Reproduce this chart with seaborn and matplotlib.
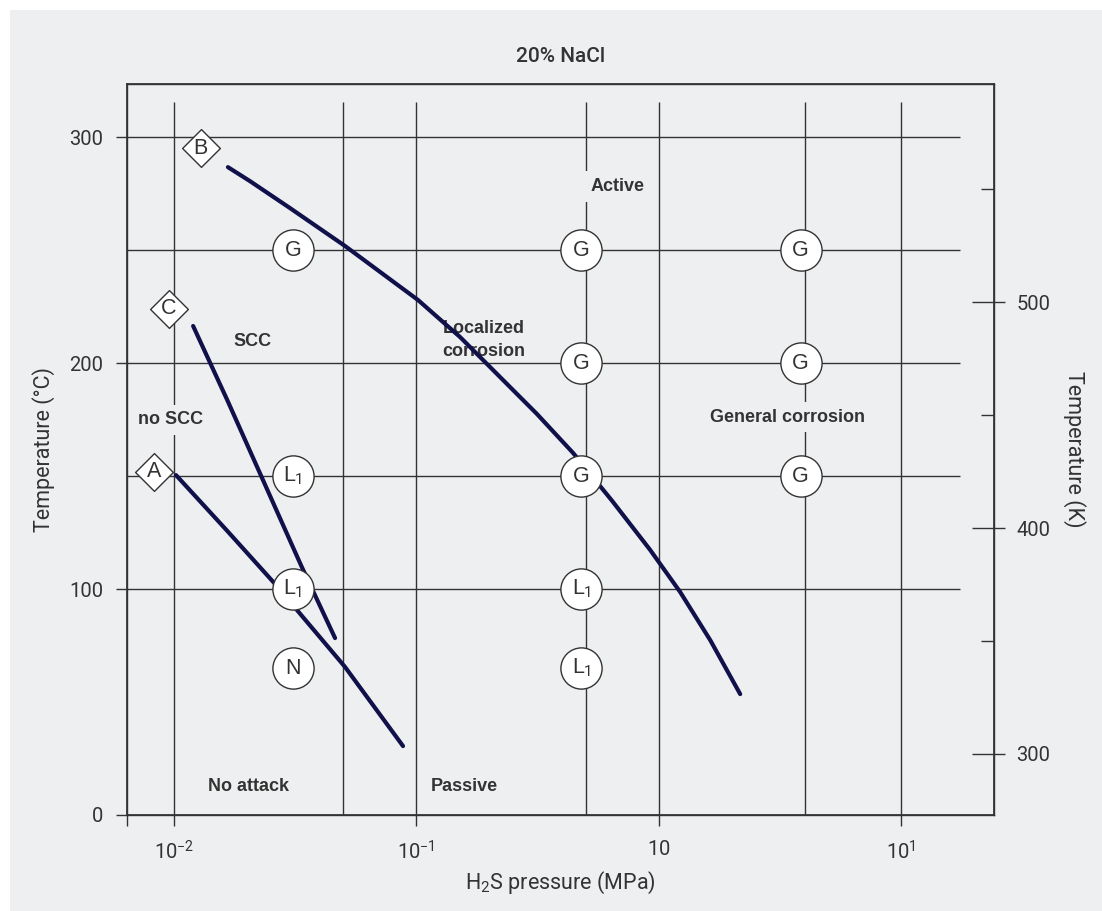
import matplotlib
matplotlib.use("Agg")
import matplotlib.pyplot as plt
import seaborn as sns
from matplotlib.patches import Rectangle

# curves: H2S pressure (MPa) vs temperature (C)
curve_b_p = [0.0167, 0.0206, 0.0301, 0.0508, 0.1016, 0.1515, 0.2215, 0.3148,
             0.4433, 0.6423, 0.9215, 1.225, 1.630, 2.167]
curve_b_t = [286.7, 280.5, 268.6, 251.8, 227.9, 211.5, 193.8, 177.4,
             160.2, 139.0, 117.3, 98.7, 77.4, 53.5]
curve_c_p = [0.0120, 0.0166, 0.0337, 0.0462]
curve_c_t = [216.4, 183.6, 109.7, 78.3]
curve_a_p = [0.0102, 0.0166, 0.0257, 0.0508, 0.0881]
curve_a_t = [150.4, 125.7, 103.1, 65.5, 30.5]

# test points
circle_p = [0.031, 0.48, 3.85, 0.48, 3.85, 0.031, 0.48, 3.85, 0.031, 0.48, 0.031, 0.48]
circle_t = [250, 250, 250, 200, 200, 150, 150, 150, 100, 100, 65, 65]
circle_lab = ["G", "G", "G", "G", "G", "L1", "G", "G", "L1", "L1", "N", "L1"]

diamond_p = [0.00826, 0.0129, 0.00953]
diamond_t = [152, 295, 224]
diamond_lab = ["A", "B", "C"]

# region labels (masked ones sit on grid lines)
region_lab = ["Active", "no SCC", "General corrosion"]
region_p = [0.673, 0.00972, 3.39]
region_t = [278, 174.8, 176.1]
plain_lab = ["SCC", "Localized\ncorrosion", "No attack", "Passive"]
plain_p = [0.0210, 0.190, 0.0204, 0.157]
plain_t = [209.7, 210.2, 12.8, 12.4]

grid_p = [0.01, 0.05, 0.1, 0.5, 1, 4, 10]
grid_t = [100, 150, 200, 250, 300]
xtick_pos = [0.0064, 0.01, 0.1, 1, 10]
xtick_lab = ["", "$10^{-2}$", "$10^{-1}$", "$10$", "$10^{1}$"]

BG = "#eeeff1"
INK = "#333333"
CURVE = "#10104a"

sns.set_theme(style="ticks")
plt.rcParams["font.family"] = ["Roboto", "DejaVu Sans"]
plt.rcParams["mathtext.fontset"] = "custom"
plt.rcParams["mathtext.rm"] = "Roboto"
plt.rcParams["mathtext.it"] = "Liberation Sans"
plt.rcParams["text.color"] = INK
plt.rcParams["axes.labelcolor"] = INK

fig = plt.figure(figsize=(11.02, 9.11), dpi=100, facecolor="white")
fig.patches.append(Rectangle((10 / 1102, 0), 1, 901 / 911, transform=fig.transFigure,
                             facecolor=BG, edgecolor="none", zorder=-1))
ax = fig.add_axes([0.1152, 0.1054, 0.787, 0.8024])
ax.set_facecolor(BG)
ax.set_xscale("log")
xmin, xmax = 0.0064, 24.2
ymax = 323.5
ax.set_xlim(xmin, xmax)
ax.set_ylim(0, ymax)

# grid
ax.vlines(grid_p, 0, 315.5, color=INK, lw=1, zorder=1)
ax.hlines(grid_t, xmin, 17.5, color=INK, lw=1, zorder=1)

# curves
for px, ty in [(curve_b_p, curve_b_t), (curve_c_p, curve_c_t), (curve_a_p, curve_a_t)]:
    sns.lineplot(x=px, y=ty, ax=ax, sort=False, estimator=None, color=CURVE, lw=3,
                 zorder=3, solid_joinstyle="round")

# markers
sns.scatterplot(x=circle_p, y=circle_t, ax=ax, marker="o", s=880, color="white",
                edgecolor=INK, linewidth=1, zorder=5, legend=False)
sns.scatterplot(x=diamond_p, y=diamond_t, ax=ax, marker="D", s=370, color="white",
                edgecolor=INK, linewidth=1, zorder=5, legend=False)
for p, t, lab in zip(circle_p, circle_t, circle_lab):
    s = r"$\mathit{L_1}$" if lab == "L1" else lab
    ax.text(p, t, s, ha="center", va="center", fontsize=15.5, family="Liberation Sans", zorder=6)
for p, t, lab in zip(diamond_p, diamond_t, diamond_lab):
    ax.text(p, t, lab, ha="center", va="center", fontsize=15.5, family="Liberation Sans", zorder=6)

for p, t, lab in zip(region_p, region_t, region_lab):
    ax.text(p, t, lab, ha="center", va="center", fontsize=13, fontweight="bold",
            family="Liberation Sans", zorder=2,
            bbox=dict(facecolor=BG, edgecolor="none", pad=5))
for p, t, lab in zip(plain_p, plain_t, plain_lab):
    ax.text(p, t, lab, ha="center", va="center", fontsize=13, fontweight="bold",
            family="Liberation Sans", multialignment="left", linespacing=1.4, zorder=2)

# axes styling
for sp in ax.spines.values():
    sp.set_color(INK)
    sp.set_linewidth(1)
ax.set_xticks(xtick_pos)
ax.set_xticklabels(xtick_lab)
ax.xaxis.set_minor_locator(matplotlib.ticker.NullLocator())
ax.set_yticks([0, 100, 200, 300])
ax.tick_params(axis="both", direction="out", length=8, width=1, color=INK,
               labelcolor=INK, labelsize=14.5)
ax.tick_params(axis="x", pad=10)
ax.tick_params(axis="y", pad=9)
ax.set_xlabel("H$_2$S pressure (MPa)", fontsize=15.5, labelpad=5)
ax.set_ylabel("Temperature (°C)", fontsize=15.5, labelpad=10)
ax.set_title("20% NaCl", fontsize=15, pad=16, color=INK, fontweight="medium")

# kelvin axis
ax2 = ax.twinx()
ax2.set_ylim(273, 273 + ymax)
ax2.set_yticks([300, 400, 500])
ax2.set_yticks([350, 450, 550], minor=True)
ax2.tick_params(axis="y", which="major", direction="out", length=8, width=1, color=INK,
                labelcolor=INK, labelsize=14.5, pad=8)
ax2.tick_params(axis="y", which="minor", direction="in", length=9.5, width=1, color=INK)
for sp in ax2.spines.values():
    sp.set_color(INK)
ax2.set_ylabel("Temperature (K)", fontsize=15.5, rotation=270, va="bottom", labelpad=9)

ax3 = ax.twinx()
ax3.set_ylim(273, 273 + ymax)
ax3.set_yticks([300, 400, 500])
ax3.tick_params(axis="y", direction="in", length=16, width=1, color=INK, labelright=False)
for sp in ax3.spines.values():
    sp.set_visible(False)

fig.savefig("out.png", dpi=100, facecolor="white")
